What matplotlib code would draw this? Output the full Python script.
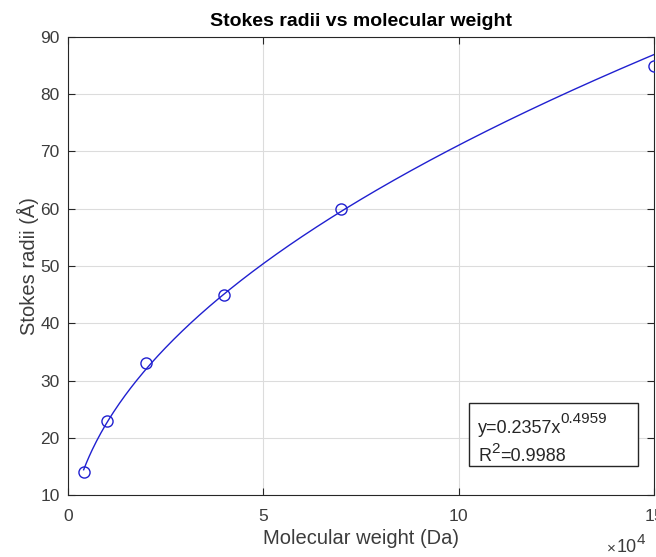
import numpy as np
import matplotlib
matplotlib.use("Agg")
import matplotlib.pyplot as plt
from matplotlib.ticker import ScalarFormatter
from matplotlib.patches import Rectangle

# Data
mw = [4000, 10000, 20000, 40000, 70000, 150000]
radii = [14, 23, 33, 45, 60, 85]
fit_a = 0.2357
fit_b = 0.4959
r2 = 0.9988
x_ticks = [0, 50000, 100000, 150000]
y_ticks = [10, 20, 30, 40, 50, 60, 70, 80, 90]

plt.rcParams['font.family'] = ['Liberation Sans', 'DejaVu Sans']

fig = plt.figure(figsize=(6.56, 5.57), dpi=100)
ax = fig.add_axes([0.1037, 0.1113, 0.8933, 0.8223])

xf = np.linspace(min(mw), max(mw), 400)
yf = fit_a * xf ** fit_b
ax.plot(xf, yf, color='#2020d0', lw=1.0, zorder=3)
ax.plot(mw, radii, 'o', ms=8, mfc='none', mec='#2020d0', mew=1.0, zorder=4)

ax.set_xlim(0, 150000)
ax.set_ylim(10, 90)
ax.set_xticks(x_ticks)
ax.set_yticks(y_ticks)
fmt = ScalarFormatter(useMathText=True)
fmt.set_powerlimits((4, 4))
ax.xaxis.set_major_formatter(fmt)
ax.xaxis.get_offset_text().set_visible(False)

ax.grid(True, color='#dcdcdc', lw=0.8)
ax.set_axisbelow(True)
for s in ax.spines.values():
    s.set_color('#262626')
    s.set_linewidth(0.8)
ax.tick_params(direction='in', top=True, right=True, length=5, width=0.8,
               colors='#262626', labelsize=12.5, labelcolor='#3c3c3c')
ax.tick_params(axis='x', pad=9)
ax.tick_params(axis='y', pad=6)

ax.set_title('Stokes radii vs molecular weight', fontsize=14, fontweight='bold', pad=8)
ax.set_xlabel('Molecular weight (Da)', fontsize=14.5, color='#3c3c3c', labelpad=4)
ax.set_ylabel('Stokes radii (Å)', fontsize=14.5, color='#3c3c3c', labelpad=1)

ax.add_patch(Rectangle((0.684, 0.0633), 0.288, 0.1376, transform=ax.transAxes,
                       fc='white', ec='#262626', lw=1.0, zorder=5))

renderer = fig.canvas.get_renderer()


def seq_text(segments, x_px, y_px, color):
    """segments: list of (text, fontsize, raise_px, gap_px_before)"""
    cur = x_px
    for txt, size, rise, gap in segments:
        cur += gap
        t = fig.text(cur, y_px + rise, txt, transform=None, fontsize=size,
                     va='baseline', ha='left', color=color, zorder=6)
        bb = t.get_window_extent(renderer)
        cur = bb.x1


H = fig.bbox.height
x0_px, _ = ax.transAxes.transform((0.7, 0))
_, y1_px = ax.transAxes.transform((0, 0.1354))
_, y2_px = ax.transAxes.transform((0, 0.0742))
seq_text([(f'y={fit_a}x', 13, 0, 0), (f'{fit_b}', 11, 10, -1)], x0_px, y1_px, '#262626')
seq_text([('R', 13, 0, 0), ('2', 11, 8, 0.5), (f'={r2}', 13, 0, 0)], x0_px, y2_px, '#262626')

# x-axis exponent label (MATLAB style)
seq_text([('×', 11, 0, 0), ('10', 13, 0, 1), ('4', 11, 8, -0.5)],
         0.925 * fig.bbox.width, 0.0085 * H, '#3c3c3c')

fig.savefig('out.png', dpi=100)
